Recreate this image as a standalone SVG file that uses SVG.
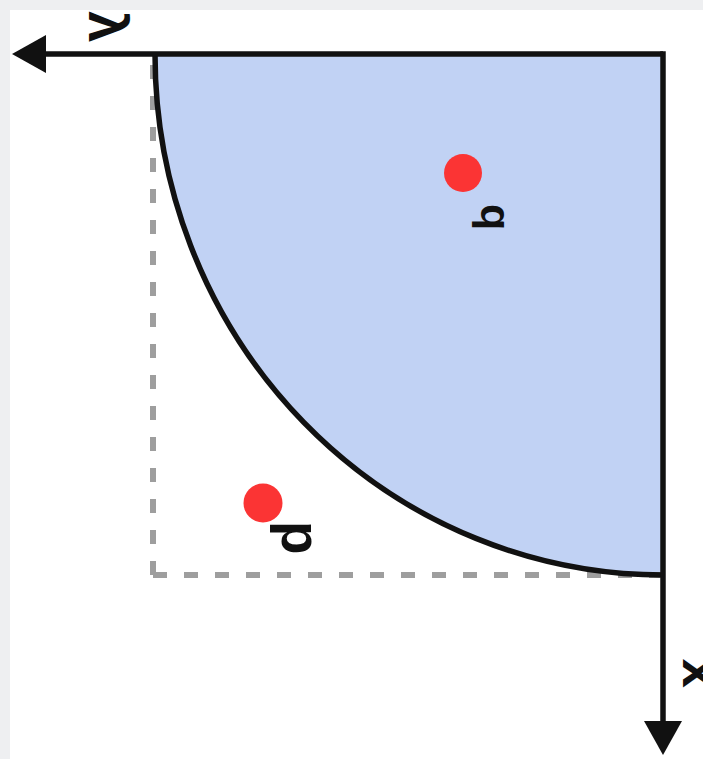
<svg xmlns="http://www.w3.org/2000/svg" width="703" height="759" viewBox="0 0 703 759">
  <defs>
    <style>
      .axis { stroke: #111; stroke-width: 5.5; fill: none; }
      .dash { stroke: #9e9e9e; stroke-width: 6; fill: none; stroke-dasharray: 14 17; }
      .dot { fill: #fb3434; }
      .lbl { font-family: "Liberation Sans", Arial, sans-serif; font-weight: bold; fill: #111; }
    </style>
    <marker id="arrow" viewBox="0 0 34 38" refX="2" refY="19" markerWidth="34" markerHeight="38" markerUnits="userSpaceOnUse" orient="auto">
      <path d="M0,0 L34,19 L0,38 Z" fill="#111"/>
    </marker>
  </defs>
  <rect x="0" y="0" width="703" height="759" fill="#eeeff1"/>
  <rect x="10" y="10" width="693" height="749" fill="#ffffff"/>

  <g id="region">
    <path d="M663,54 L155,54 A508,521 0 0 0 663,575 Z" fill="#c1d2f4"/>
  </g>

  <g id="connectors">
    <path class="dash" d="M153,575 L153,56"/>
    <path class="dash" d="M153,575 L660,575"/>
    <path class="axis" d="M155,54 A508,521 0 0 0 663,575"/>
    <path class="axis" d="M663,54 L44,54" marker-end="url(#arrow)"/>
    <path class="axis" d="M663,51.25 L663,723" marker-end="url(#arrow)"/>
  </g>

  <g id="axis-y">
    <text class="lbl" font-size="56" transform="matrix(0,1,1,0,118,11)">y</text>
  </g>
  <g id="axis-x">
    <text class="lbl" font-size="55" transform="matrix(0,1,1,0,712,658)">x</text>
  </g>
  <g id="point-q">
    <circle class="dot" cx="463" cy="173" r="19"/>
    <text class="lbl" font-size="43" transform="matrix(0,1,-1,0,481,204)">q</text>
  </g>
  <g id="point-p">
    <circle class="dot" cx="263" cy="503" r="19.5"/>
    <text class="lbl" font-size="55" transform="matrix(0,1,-1,0,282,521)">p</text>
  </g>
</svg>
